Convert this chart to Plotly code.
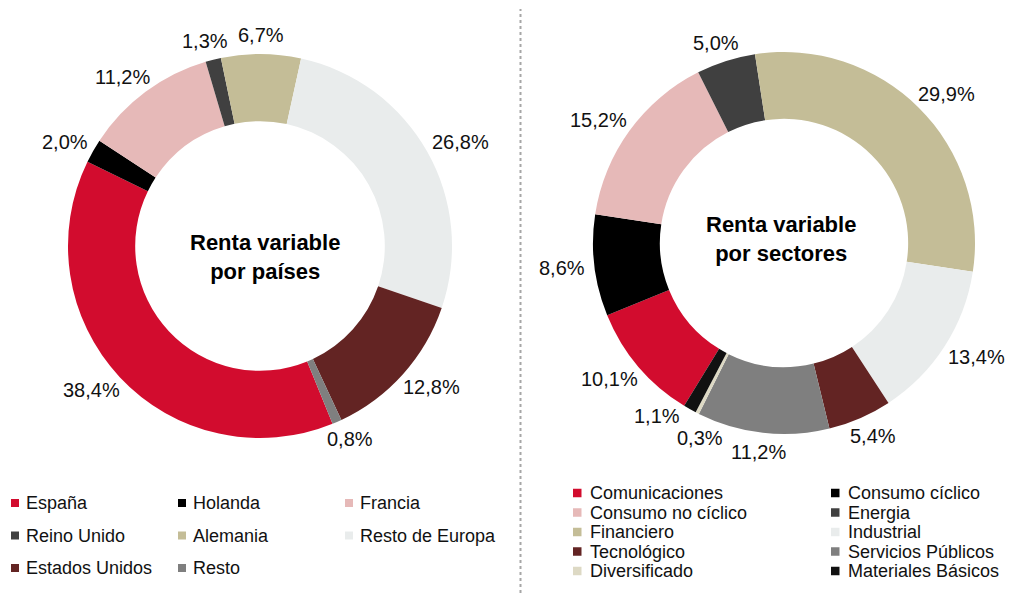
import math

import plotly.graph_objects as go

W, H = 1018, 593
FONT = "Liberation Sans, Arial, sans-serif"

# --- data ---
country_labels = ["España", "Holanda", "Francia", "Reino Unido", "Alemania",
                  "Resto de Europa", "Estados Unidos", "Resto"]
country_values = [38.4, 2.0, 11.2, 1.3, 6.7, 26.8, 12.8, 0.8]
country_colors = ["#D20C2E", "#000000", "#E6B9B8", "#404040", "#C4BD97",
                  "#E9ECEC", "#632423", "#7F7F7F"]

sector_labels = ["Comunicaciones", "Consumo cíclico", "Consumo no cíclico", "Energia",
                 "Financiero", "Industrial", "Tecnológico", "Servicios Públicos",
                 "Diversificado", "Materiales Básicos"]
sector_values = [10.1, 8.6, 15.2, 5.0, 29.9, 13.4, 5.4, 11.2, 0.3, 1.1]
sector_colors = ["#D20C2E", "#000000", "#E6B9B8", "#404040", "#C4BD97", "#E9ECEC",
                 "#632423", "#7F7F7F", "#DDD9C4", "#111111"]

# rough Arial glyph widths (em) for the percentage labels
CHAR_W = {",": 0.278, "%": 0.889}


def px_to_paper(x, y):
    return x / W, 1 - y / H


def _pie_trace(labels, values, colors, cx, cy, r, rotation):
    x0, y1 = px_to_paper(cx - r, cy - r)
    x1, y0 = px_to_paper(cx + r, cy + r)
    return go.Pie(
        labels=labels,
        values=values,
        marker={"colors": colors, "line": {"width": 0}},
        hole=0.65,
        sort=False,
        direction="clockwise",
        rotation=rotation,
        textinfo="none",
        hoverinfo="label+percent",
        showlegend=False,
        domain={"x": [x0, x1], "y": [y0, y1]},
    )


def _pct_annotations(values, cx, cy, r, rotation, size=20, gap=10, pad=2):
    """Percentage labels just outside each slice; crowded ones are spread apart."""
    total = sum(values)
    texts, angles = [], []
    angle = rotation
    for v in values:
        angles.append(angle + 180 * v / total)
        angle += 360 * v / total
        texts.append(f"{v:.1f}%".replace(".", ","))
    widths = [size * sum(CHAR_W.get(ch, 0.556) for ch in t) for t in texts]
    h = size * 0.9

    def box(i):
        a = math.radians(angles[i])
        s, c = math.sin(a), math.cos(a)
        return (cx + (r + gap) * s + widths[i] / 2 * s,
                cy - (r + gap) * c - h / 2 * c)

    n = len(values)
    for _ in range(400):
        moved = False
        for i in range(n):
            j = (i + 1) % n
            (x1, y1), (x2, y2) = box(i), box(j)
            if abs(x1 - x2) < (widths[i] + widths[j]) / 2 + pad and abs(y1 - y2) < h + pad:
                angles[i] -= 0.5
                angles[j] += 0.5
                moved = True
        if not moved:
            break

    anns = []
    for i, text in enumerate(texts):
        x, y = px_to_paper(*box(i))
        anns.append(go.layout.Annotation(
            x=x, y=y, xref="paper", yref="paper", text=text, showarrow=False,
            xanchor="center", yanchor="middle",
            font={"family": FONT, "size": size, "color": "#111111"},
        ))
    return anns


def _legend(labels, colors, col_x, row_y, ncols, box=8, text_dx=13, size=18):
    shapes, anns = [], []
    for i, (lab, col) in enumerate(zip(labels, colors)):
        x = col_x[i % ncols]
        y = row_y[i // ncols]
        sx0, sy1 = px_to_paper(x, y - box / 2)
        sx1, sy0 = px_to_paper(x + box, y + box / 2)
        shapes.append({"type": "rect", "xref": "paper", "yref": "paper",
                       "x0": sx0, "x1": sx1, "y0": sy0, "y1": sy1,
                       "fillcolor": col, "line": {"width": 0}})
        tx, ty = px_to_paper(x + text_dx, y)
        anns.append(go.layout.Annotation(
            x=tx, y=ty, xref="paper", yref="paper", text=lab, showarrow=False,
            xanchor="left", yanchor="middle",
            font={"family": FONT, "size": size, "color": "#111111"},
        ))
    return shapes, anns


def _center_title(text, cx, cy):
    x, y = px_to_paper(cx, cy)
    return go.layout.Annotation(
        x=x, y=y, xref="paper", yref="paper", text=f"<b>{text}</b>", showarrow=False,
        xanchor="center", yanchor="middle",
        font={"family": FONT, "size": 22, "color": "#000000"},
    )


# pie geometry (pixels)
L_CX, L_CY, L_R, L_ROT = 260, 246, 192, 157.8
R_CX, R_CY, R_R, R_ROT = 784, 243, 191, 211.5

fig = go.Figure()
fig.add_trace(_pie_trace(country_labels, country_values, country_colors, L_CX, L_CY, L_R, L_ROT))
fig.add_trace(_pie_trace(sector_labels, sector_values, sector_colors, R_CX, R_CY, R_R, R_ROT))

annotations = []
annotations += _pct_annotations(country_values, L_CX, L_CY, L_R, L_ROT)
annotations += _pct_annotations(sector_values, R_CX, R_CY, R_R, R_ROT)
annotations.append(_center_title("Renta variable<br>por países", L_CX + 5, 257))
annotations.append(_center_title("Renta variable<br>por sectores", R_CX - 3, 239))

shapes_l, anns_l = _legend(country_labels, country_colors, [11, 178, 345], [503, 535.5, 568], 3)
shapes_r, anns_r = _legend(sector_labels, sector_colors, [573, 831],
                           [493, 512.5, 532, 551.5, 571], 2, box=8.5, text_dx=15)
annotations += anns_l + anns_r

sep_x, sep_top = px_to_paper(520.5, 9)
shapes = shapes_l + shapes_r + [{
    "type": "line", "xref": "paper", "yref": "paper",
    "x0": sep_x, "x1": sep_x, "y0": 0, "y1": sep_top,
    "line": {"color": "#A6A6A6", "width": 2, "dash": "dot"},
}]

fig.update_layout(
    width=W,
    height=H,
    margin={"l": 0, "r": 0, "t": 0, "b": 0},
    paper_bgcolor="white",
    plot_bgcolor="white",
    showlegend=False,
    annotations=annotations,
    shapes=shapes,
)
# page body has a default 8px margin; drop it so the figure sits at the window origin
fig.write_html(
    "out.html",
    config={"displayModeBar": False},
    post_script="document.body.style.margin = '0';",
)
